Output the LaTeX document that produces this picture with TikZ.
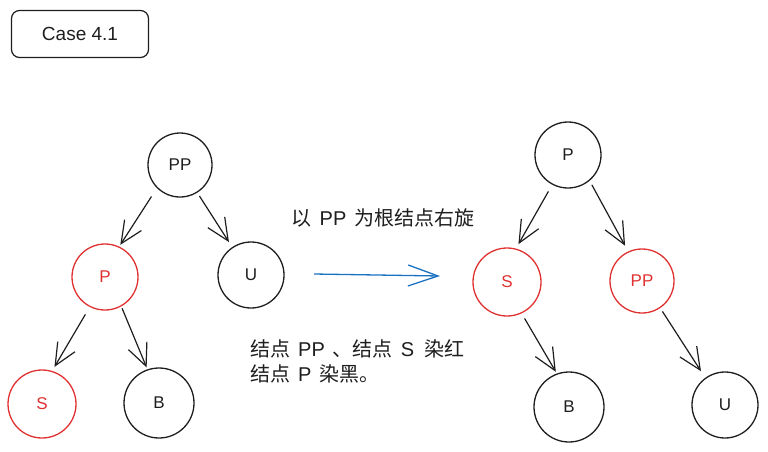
\documentclass[tikz,border=0pt]{standalone}
\usepackage{fontspec}
\setmainfont{Liberation Sans}
\newfontfamily\cjk{Noto Sans CJK SC}
\usetikzlibrary{arrows.meta}
\definecolor{ink}{HTML}{1E1E1E}
\definecolor{redink}{HTML}{E03131}
\definecolor{blueink}{HTML}{1971C2}
\begin{document}
\begin{tikzpicture}[x=1pt,y=-1pt,
  tnode/.style={circle,draw=ink,line width=1.3pt,text=ink,inner sep=0pt,font=\fontsize{17}{17}\selectfont},
  rnode/.style={tnode,draw=redink,text=redink},
  edge/.style={draw=ink,line width=1.2pt,-{Straight Barb[length=22pt,width=20pt,line width=1.2pt]}},
  label/.style={text=ink,inner sep=0pt,font=\fontsize{20}{25}\selectfont}]
\useasboundingbox (0,0) rectangle (768,451);

% title box
\node[draw=ink,line width=1.2pt,rounded corners=8pt,minimum width=137pt,minimum height=47pt,
      text=ink,font=\fontsize{19}{19}\selectfont] (case) at (80,34) {Case 4.1};

% left tree
\node[tnode,minimum size=64pt] (lPP) at (180,165) {PP};
\node[rnode,minimum size=66pt] (lP) at (105,277) {P};
\node[tnode,minimum size=66pt] (lU) at (251,275) {U};
\node[rnode,minimum size=68pt] (lS) at (42,404) {S};
\node[tnode,minimum size=70pt] (lB) at (159,403) {B};

\draw[edge,shorten <=10pt,shorten >=2pt] (lPP.225) -- (lP.65);
\draw[edge,shorten <=4pt,shorten >=6pt] (lPP.302) -- (lU.124);
\draw[edge,shorten <=8.6pt,shorten >=4.6pt] (lP.243) -- (lS.73);
\draw[edge,shorten <=2pt,shorten >=2pt] (lP.299) -- (lB.109);

% right tree
\node[tnode,minimum size=66pt] (rP) at (568,155) {P};
\node[rnode,minimum size=68pt] (rS) at (507,282) {S};
\node[rnode,minimum size=64pt] (rPP) at (642,281) {PP};
\node[tnode,minimum size=70pt] (rB) at (569,407) {B};
\node[tnode,minimum size=66pt] (rU) at (725,405) {U};

\draw[edge,shorten <=7.7pt,shorten >=5pt] (rP.242) -- (rS.75);
\draw[edge,shorten <=4.6pt,shorten >=6.5pt] (rP.310) -- (rPP.115);
\draw[edge,shorten <=5.8pt,shorten >=2pt] (rS.295) -- (rB.110);
\draw[edge,shorten <=4pt,shorten >=7.8pt] (rPP.304) -- (rU.126);

% transition arrow
\coordinate (a1) at (314,274);
\coordinate (a2) at (440,276);
\draw[blueink,line width=1.3pt,-{Straight Barb[length=30pt,width=21pt,line width=1.3pt]}] (a1) -- (a2);

% texts
\node[label,anchor=base] (rot) at (383,225.5) {{\cjk 以}\hspace{8pt}PP\hspace{8pt}{\cjk 为根结点右旋}};
\node[label,anchor=west,align=left] (col) at (250,361)
  {{\cjk 结点}\hspace{8pt}PP\hspace{8pt}{\cjk 、结点}\hspace{8pt}S\hspace{10pt}{\cjk 染红}\\
   {\cjk 结点}\hspace{8pt}P\hspace{8pt}{\cjk 染黑。}};
\end{tikzpicture}
\end{document}
